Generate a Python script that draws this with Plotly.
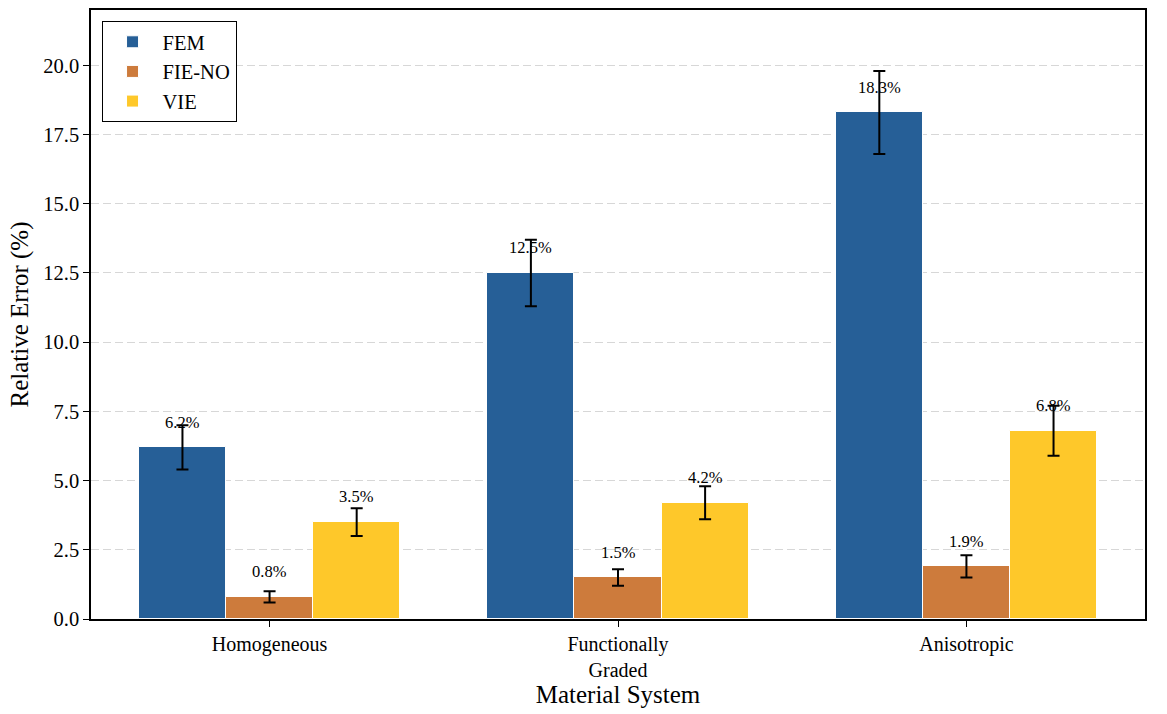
import plotly.graph_objects as go

materials = ['Homogeneous', 'Functionally<br>Graded', 'Anisotropic']
methods = ['FEM', 'FIE-NO', 'VIE']
fem_err = [6.2, 12.5, 18.3]
fie_no_err = [0.8, 1.5, 1.9]
vie_err = [3.5, 4.2, 6.8]
fem_std = [0.8, 1.2, 1.5]
fie_no_std = [0.2, 0.3, 0.4]
vie_std = [0.5, 0.6, 0.9]

colors = ['#265f97', '#cd7b3c', '#fec82a']
values = [fem_err, fie_no_err, vie_err]
stds = [fem_std, fie_no_std, vie_std]

width = 0.25
x_pos = list(range(len(materials)))

fig = go.Figure()

for i, (name, vals, err, col) in enumerate(zip(methods, values, stds, colors)):
    offset = (i - 1) * width
    xs = [x + offset for x in x_pos]
    fig.add_trace(go.Bar(
        x=xs,
        y=vals,
        width=width,
        name=name,
        marker=dict(color=col, line=dict(color='white', width=1)),
        error_y=dict(type='data', array=err, color='black', thickness=2, width=6),
    ))
    # value labels above bars
    for xv, v in zip(xs, vals):
        fig.add_annotation(
            x=xv, y=v + 0.5, text=f'{v:.1f}%', showarrow=False,
            yanchor='bottom', xanchor='center',
            font=dict(size=16.5, color='black'),
        )

fig.update_layout(
    width=1167,
    height=714,
    template='simple_white',
    font=dict(family='Liberation Serif, Times New Roman, serif', size=20, color='black'),
    plot_bgcolor='white',
    paper_bgcolor='white',
    margin=dict(l=91, r=22, t=10, b=95),
    bargap=0,
    showlegend=True,
    legend=dict(
        x=0.01, y=0.982, xanchor='left', yanchor='top',
        bordercolor='black', borderwidth=1, bgcolor='white',
        font=dict(size=20.5),
        itemwidth=50,
        tracegroupgap=2,
    ),
)

fig.update_xaxes(
    tickmode='array', tickvals=x_pos, ticktext=materials,
    range=[-0.5125, 2.5125],
    showline=True, linecolor='black', linewidth=1.5, mirror=True,
    ticks='outside', ticklen=6, tickcolor='black',
    tickfont=dict(size=20),
    title=dict(text='Material System', font=dict(size=25), standoff=0),
    showgrid=False, automargin=False,
)
fig.update_yaxes(
    range=[0, 22],
    tickmode='array', tickvals=[0, 2.5, 5, 7.5, 10, 12.5, 15, 17.5, 20],
    tickformat='.1f',
    showline=True, linecolor='black', linewidth=1.5, mirror=True,
    ticks='outside', ticklen=6, tickcolor='black',
    tickfont=dict(size=20.5),
    title=dict(text='Relative Error (%)', font=dict(size=25), standoff=8),
    showgrid=True, gridcolor='rgb(215,215,215)', griddash='8px,4px', gridwidth=1,
    zeroline=False, automargin=False,
)

fig.write_html('out.html', config={'displayModeBar': False},
               post_script="document.body.style.margin='0px';")
